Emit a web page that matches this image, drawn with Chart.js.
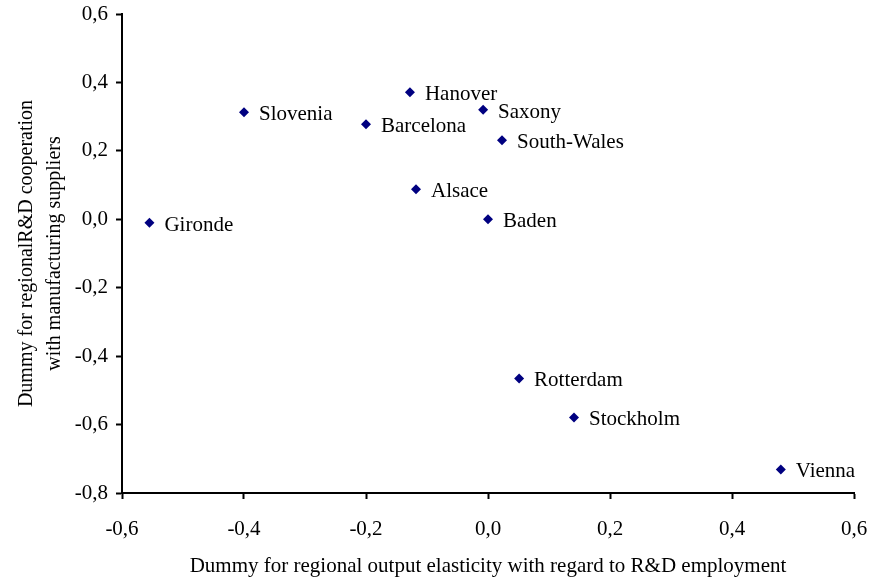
<!DOCTYPE html>
<html>
<head>
<meta charset="utf-8">
<script src="https://cdn.jsdelivr.net/npm/chart.js@4/dist/chart.umd.min.js"></script>
<style>
  html, body { margin: 0; padding: 0; background: #fff; }
  #wrap { width: 871px; height: 584px; }
</style>
</head>
<body>
<div id="wrap"><canvas id="chart"></canvas></div>
<script>
// Regions and their dummy values
const regions = ['Gironde', 'Slovenia', 'Barcelona', 'Hanover', 'Saxony', 'South-Wales',
                 'Alsace', 'Baden', 'Rotterdam', 'Stockholm', 'Vienna'];
const outputElasticity = [-0.555, -0.40, -0.20, -0.128, -0.008, 0.023, -0.118, 0.0, 0.051, 0.141, 0.48];
const rdCooperation = [-0.01, 0.313, 0.278, 0.371, 0.32, 0.231, 0.088, 0.0, -0.465, -0.579, -0.731];

const xTicks = [-0.6, -0.4, -0.2, 0.0, 0.2, 0.4, 0.6];
const yTicks = [-0.8, -0.6, -0.4, -0.2, 0.0, 0.2, 0.4, 0.6];

const serif = "'Liberation Serif', 'Times New Roman', serif";
const fmt = v => Number(v).toFixed(1).replace('.', ',');

// small plugin: region name to the right of each point
const pointLabels = {
  id: 'pointLabels',
  afterDatasetsDraw(chart) {
    const ctx = chart.ctx;
    const meta = chart.getDatasetMeta(0);
    ctx.save();
    ctx.font = '21px ' + serif;
    ctx.fillStyle = '#000';
    ctx.textAlign = 'left';
    ctx.textBaseline = 'middle';
    meta.data.forEach((pt, i) => {
      ctx.fillText(regions[i], pt.x + 15, pt.y + 2.5);
    });
    ctx.restore();
  }
};

new Chart(document.getElementById('chart'), {
  type: 'scatter',
  data: {
    datasets: [{
      data: outputElasticity.map((x, i) => ({ x: x, y: rdCooperation[i] })),
      pointStyle: 'rectRot',
      pointRadius: 5,
      pointHoverRadius: 5,
      backgroundColor: '#000080',
      borderColor: '#000080',
      borderWidth: 0
    }]
  },
  options: {
    responsive: true,
    maintainAspectRatio: false,
    animation: false,
    layout: { padding: { top: 14, right: 17, left: 0, bottom: 0 } },
    scales: {
      x: {
        type: 'linear',
        min: -0.6,
        max: 0.6,
        afterBuildTicks: s => { s.ticks = xTicks.map(v => ({ value: v })); },
        afterFit: s => { s.height = 91; s.paddingLeft = 0; s.paddingRight = 0; },
        border: { display: true, color: '#000', width: 2 },
        grid: { drawOnChartArea: false, drawTicks: true, tickLength: 6, tickWidth: 2, tickColor: '#000' },
        ticks: {
          padding: 18,
          color: '#000',
          font: { family: serif, size: 21 },
          callback: v => fmt(v)
        },
        title: {
          display: true,
          text: 'Dummy for regional output elasticity with regard to R&D employment',
          color: '#000',
          font: { family: serif, size: 21, lineHeight: 1.2 },
          padding: { top: 0, bottom: 5 }
        }
      },
      y: {
        type: 'linear',
        min: -0.8,
        max: 0.6,
        afterBuildTicks: s => { s.ticks = yTicks.map(v => ({ value: v })); },
        afterFit: s => { s.width = 122; s.paddingTop = 0; s.paddingBottom = 0; },
        border: { display: true, color: '#000', width: 2 },
        grid: { drawOnChartArea: false, drawTicks: true, tickLength: 6, tickWidth: 2, tickColor: '#000' },
        ticks: {
          padding: 8,
          color: '#000',
          font: { family: serif, size: 21 },
          callback: v => fmt(v)
        },
        title: {
          display: true,
          text: ['Dummy for regionalR&D cooperation', 'with manufacturing suppliers'],
          color: '#000',
          font: { family: serif, size: 20, lineHeight: 1.4 },
          padding: { top: 13, bottom: 0 }
        }
      }
    },
    plugins: {
      legend: { display: false },
      tooltip: { enabled: false }
    }
  },
  plugins: [pointLabels]
});
</script>
</body>
</html>
